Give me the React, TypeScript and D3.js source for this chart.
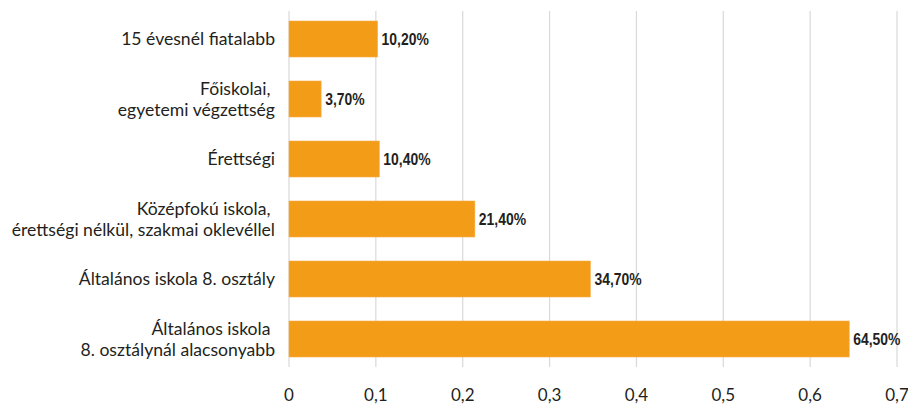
import React from "react";
import * as d3 from "d3";

const categories: string[][] = [
  ["15 évesnél fiatalabb"],
  ["Főiskolai, ", "egyetemi végzettség"],
  ["Érettségi"],
  ["Középfokú iskola, ", "érettségi nélkül, szakmai oklevéllel"],
  ["Általános iskola 8. osztály"],
  ["Általános iskola ", "8. osztálynál alacsonyabb"],
];
const values: number[] = [0.102, 0.037, 0.104, 0.214, 0.347, 0.645];
const valueLabels: string[] = ["10,20%", "3,70%", "10,40%", "21,40%", "34,70%", "64,50%"];
const ticks: number[] = [0, 0.1, 0.2, 0.3, 0.4, 0.5, 0.6, 0.7];

const W = 908;
const H = 405;
const x0 = 289;
const x1 = 897;

export default function App() {
  const x = d3.scaleLinear().domain([0, 0.7]).range([x0, x1]);
  const y = d3
    .scaleBand<number>()
    .domain(d3.range(categories.length))
    .range([9, 369])
    .paddingInner(0.4)
    .paddingOuter(0.2);
  const fmt = (v: number) => (v === 0 ? "0" : d3.format(".1f")(v).replace(".", ","));
  const textColor = "#231f20";
  const font = "Lato, 'Open Sans', sans-serif";
  return (
    <svg
      width={W}
      height={H}
      style={{ position: "absolute", left: 0, top: 0, background: "#fff" }}
    >
      {ticks.map((t) => (
        <line
          key={t}
          x1={x(t)}
          x2={x(t)}
          y1={11}
          y2={367}
          stroke="#d9d9d9"
          strokeWidth={1.2}
        />
      ))}
      {values.map((v, i) => (
        <rect
          key={i}
          x={x(0)}
          y={y(i)!}
          width={x(v) - x(0)}
          height={y.bandwidth()}
          fill="#f39c17"
          stroke="#f6b04a"
          strokeWidth={0.6}
        />
      ))}
      {values.map((v, i) => (
        <text
          key={i}
          transform={`translate(${x(v) + 4},${y(i)! + y.bandwidth() / 2}) scale(0.82,1)`}
          dy="0.36em"
          fontFamily="'Liberation Sans', Arial, sans-serif"
          fontWeight="bold"
          fontSize={17}
          fill={textColor}
        >
          {valueLabels[i]}
        </text>
      ))}
      {categories.map((lines, i) => {
        const cy = y(i)! + y.bandwidth() / 2;
        const n = lines.length;
        return (
          <text
            key={i}
            textAnchor="end"
            fontFamily={font}
            fontSize={17.6}
            fill={textColor}
            style={{ whiteSpace: "pre" }}
          >
            {lines.map((l, j) => (
              <tspan key={j} x={275} y={cy + (j - (n - 1) / 2) * 21} dy="0.35em">
                {l}
              </tspan>
            ))}
          </text>
        );
      })}
      {ticks.map((t) => (
        <text
          key={t}
          x={x(t)}
          y={395}
          dy="0.35em"
          textAnchor="middle"
          fontFamily={font}
          fontSize={17}
          fill={textColor}
        >
          {fmt(t)}
        </text>
      ))}
    </svg>
  );
}
